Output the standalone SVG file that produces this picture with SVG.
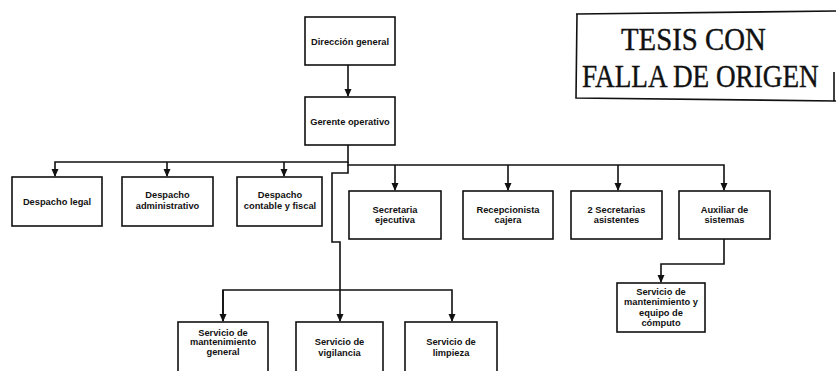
<svg xmlns="http://www.w3.org/2000/svg" width="836" height="371" viewBox="0 0 836 371">
<style>
.box{fill:#fff;stroke:#111;stroke-width:1.6}
.lbl{font-family:"Liberation Sans",Arial,sans-serif;font-size:9.3px;font-weight:bold;fill:#111;text-anchor:middle}
.con{fill:none;stroke:#111;stroke-width:1.6}
.stamp{font-family:"Liberation Serif","Times New Roman",serif;fill:#111;stroke:#111;stroke-width:0.4;font-size:32px}
</style>
<defs>
<marker id="ah" markerWidth="8" markerHeight="8" refX="7" refY="4" orient="auto" markerUnits="userSpaceOnUse">
<path d="M0,0.5 L8,4 L0,7.5 Z" fill="#111"/>
</marker>
</defs>
<rect width="836" height="371" fill="#fff"/>
<g id="connectors">
<path class="con" d="M348,65 V96" marker-end="url(#ah)"/>
<path class="con" d="M348,145 V162 H55 V176" marker-end="url(#ah)"/>
<path class="con" d="M167,162 V176" marker-end="url(#ah)"/>
<path class="con" d="M284,162 V176" marker-end="url(#ah)"/>
<path class="con" d="M348,162 V165 H724 V190" marker-end="url(#ah)"/>
<path class="con" d="M395,165 V190" marker-end="url(#ah)"/>
<path class="con" d="M508,165 V190" marker-end="url(#ah)"/>
<path class="con" d="M618,165 V190" marker-end="url(#ah)"/>
<path class="con" d="M724,239 V264 H661 V282" marker-end="url(#ah)"/>
<path class="con" d="M348,165 V173 H332 V242 H340 V321" marker-end="url(#ah)"/>
<path class="con" d="M223,321 V290 H452 V321" marker-end="url(#ah)"/>
<path class="con" d="M223,290 V321" marker-end="url(#ah)"/>
</g>
<g id="stamp">
<path d="M576,14 L836,11 M577,14 L576,98 L836,101 M834,72 L834,101" fill="none" stroke="#111" stroke-width="1.6"/>
<text class="stamp" transform="translate(621,50) scale(0.9,1)" x="0" y="0">TESIS CON</text>
<text class="stamp" transform="translate(582,87) scale(0.85,1)" x="0" y="0">FALLA DE ORIGEN</text>
</g>
<g id="direccion"><rect class="box" x="305" y="17" width="90" height="48"/><text class="lbl" x="350" y="45">Dirección general</text></g>
<g id="gerente"><rect class="box" x="305" y="97" width="90" height="48"/><text class="lbl" x="350" y="125">Gerente operativo</text></g>
<g id="legal"><rect class="box" x="12" y="177" width="90" height="49"/><text class="lbl" x="57" y="205">Despacho legal</text></g>
<g id="administrativo"><rect class="box" x="122" y="177" width="91" height="49"/><text class="lbl" x="167.5" y="198">Despacho</text><text class="lbl" x="167.5" y="209">administrativo</text></g>
<g id="contable"><rect class="box" x="237" y="177" width="85" height="49"/><text class="lbl" x="280" y="198">Despacho</text><text class="lbl" x="280" y="209">contable y fiscal</text></g>
<g id="secretaria"><rect class="box" x="349" y="191" width="92" height="48"/><text class="lbl" x="395" y="213">Secretaria</text><text class="lbl" x="395" y="223">ejecutiva</text></g>
<g id="recepcionista"><rect class="box" x="463" y="191" width="90" height="48"/><text class="lbl" x="508" y="213">Recepcionista</text><text class="lbl" x="508" y="223">cajera</text></g>
<g id="secretarias"><rect class="box" x="571" y="191" width="91" height="48"/><text class="lbl" x="616.5" y="213">2 Secretarias</text><text class="lbl" x="616.5" y="223">asistentes</text></g>
<g id="auxiliar"><rect class="box" x="679" y="191" width="91" height="48"/><text class="lbl" x="724.5" y="213">Auxiliar de</text><text class="lbl" x="724.5" y="223">sistemas</text></g>
<g id="computo"><rect class="box" x="617" y="283" width="88" height="49"/><text class="lbl" x="661" y="295">Servicio de</text><text class="lbl" x="661" y="305">mantenimiento y</text><text class="lbl" x="661" y="316">equipo de</text><text class="lbl" x="661" y="326">cómputo</text></g>
<g id="mantenimiento"><rect class="box" x="178" y="322" width="90" height="60"/><text class="lbl" x="223" y="336">Servicio de</text><text class="lbl" x="223" y="345">mantenimiento</text><text class="lbl" x="223" y="355">general</text></g>
<g id="vigilancia"><rect class="box" x="296" y="322" width="87" height="60"/><text class="lbl" x="339.5" y="345">Servicio de</text><text class="lbl" x="339.5" y="356">vigilancia</text></g>
<g id="limpieza"><rect class="box" x="405" y="322" width="92" height="60"/><text class="lbl" x="451" y="345">Servicio de</text><text class="lbl" x="451" y="356">limpieza</text></g>
</svg>
